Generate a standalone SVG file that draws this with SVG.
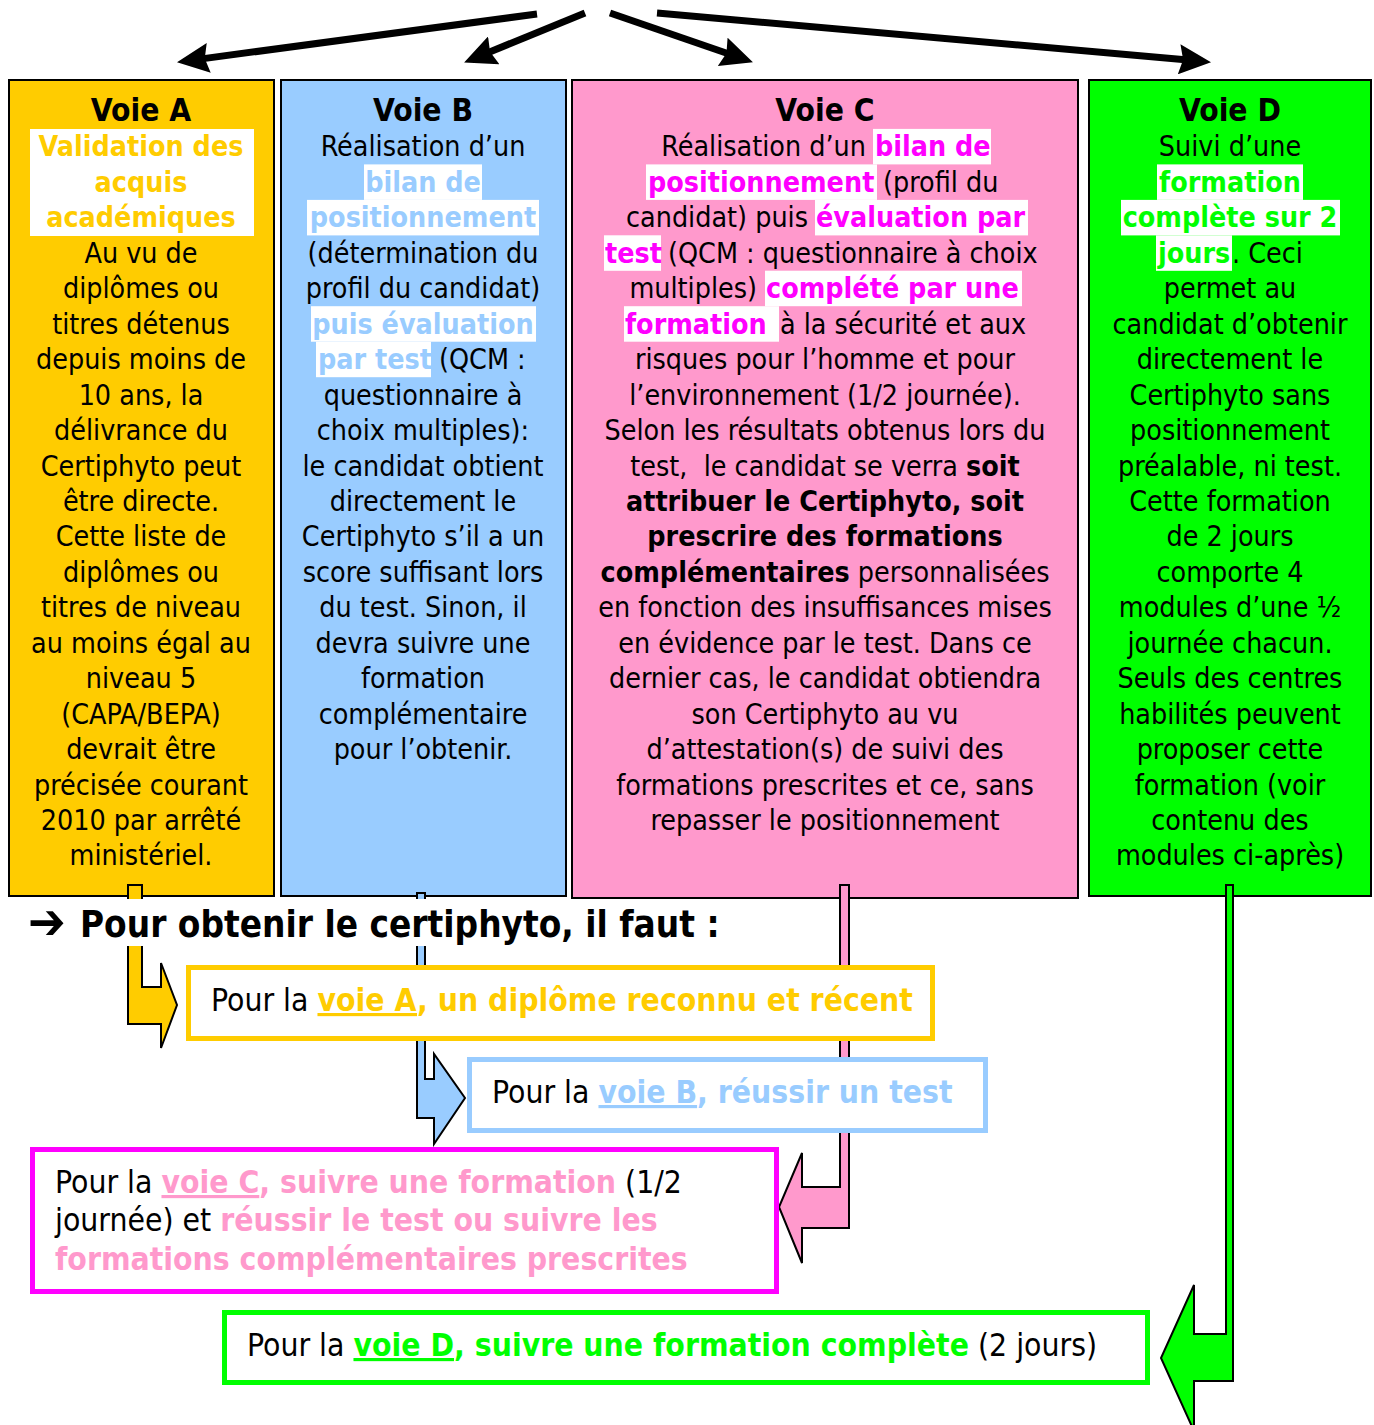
<svg xmlns="http://www.w3.org/2000/svg" width="1374" height="1425" viewBox="0 0 1374 1425">
<style>
text{font-family:'DejaVu Sans Condensed','DejaVu Sans',sans-serif;font-stretch:condensed;font-size:28.4px;fill:#000}
.c{text-anchor:middle}
.e{text-anchor:end}
.b{font-weight:bold}
.ti{font-weight:bold;font-size:31.5px;text-anchor:middle}
.hl{fill:#fff}
.yel{fill:#FFCC00}
.blu{fill:#99CCFF}
.mag{fill:#FF00FF}
.pnk{fill:#FF99CC}
.grn{fill:#00FF00}
.box{stroke:#000;stroke-width:2}
.ar{stroke:#000;stroke-width:7;fill:none;marker-end:url(#ah)}
.bent{stroke:#000;stroke-width:2;stroke-linejoin:miter}
.res{fill:#fff;stroke-width:5}
.rt{font-size:31.6px}
.u{text-decoration:underline}
</style>
<defs>
<marker id="ah" markerUnits="userSpaceOnUse" markerWidth="32" markerHeight="30" viewBox="0 0 32 30" refX="9" refY="15" orient="auto">
<path d="M0,0 L32,15 L0,30 L4,15 z" fill="#000"/>
</marker>
</defs>

<g id="top-arrows">
<line class="ar" x1="537" y1="14" x2="199.8" y2="59.1"/>
<line class="ar" x1="585" y1="13" x2="485.4" y2="53.7"/>
<line class="ar" x1="610" y1="13" x2="731.2" y2="54.8"/>
<line class="ar" x1="657" y1="13" x2="1188.1" y2="60.1"/>
</g>

<g id="voie-a">
<rect class="box yel" x="9" y="80" width="265" height="816"/>
<rect class="hl" x="30" y="129" width="224" height="107"/>
<text class="ti" x="141" y="121">Voie A</text>
<text class="c b yel" x="141" y="156.45">Validation des</text>
<text class="c b yel" x="141" y="191.9">acquis</text>
<text class="c b yel" x="141" y="227.35">académiques</text>
<text class="c" x="141" y="262.8">Au vu de</text>
<text class="c" x="141" y="298.25">diplômes ou</text>
<text class="c" x="141" y="333.7">titres détenus</text>
<text class="c" x="141" y="369.15">depuis moins de</text>
<text class="c" x="141" y="404.6">10 ans, la</text>
<text class="c" x="141" y="440.05">délivrance du</text>
<text class="c" x="141" y="475.5">Certiphyto peut</text>
<text class="c" x="141" y="510.95">être directe.</text>
<text class="c" x="141" y="546.4">Cette liste de</text>
<text class="c" x="141" y="581.85">diplômes ou</text>
<text class="c" x="141" y="617.3">titres de niveau</text>
<text class="c" x="141" y="652.75">au moins égal au</text>
<text class="c" x="141" y="688.2">niveau 5</text>
<text class="c" x="141" y="723.65">(CAPA/BEPA)</text>
<text class="c" x="141" y="759.1">devrait être</text>
<text class="c" x="141" y="794.55">précisée courant</text>
<text class="c" x="141" y="830">2010 par arrêté</text>
<text class="c" x="141" y="865.45">ministériel.</text>
</g>

<g id="voie-b">
<rect class="box blu" x="281" y="80" width="285" height="816"/>
<rect class="hl" x="364" y="164.4" width="118" height="35.5"/>
<rect class="hl" x="307" y="199.9" width="232" height="35.5"/>
<rect class="hl" x="311" y="306.2" width="225" height="35.5"/>
<rect class="hl" x="316" y="341.7" width="115" height="35.5"/>
<text class="ti" x="423" y="121">Voie B</text>
<text class="c" x="423" y="156.45">Réalisation d’un</text>
<text class="c b blu" x="423" y="191.9">bilan de</text>
<text class="c b blu" x="423" y="227.35">positionnement</text>
<text class="c" x="423" y="262.8">(détermination du</text>
<text class="c" x="423" y="298.25">profil du candidat)</text>
<text class="c b blu" x="423" y="333.7">puis évaluation</text>
<text class="b blu" x="318" y="369.15">par test</text>
<text x="439" y="369.15">(QCM :</text>
<text class="c" x="423" y="404.6">questionnaire à</text>
<text class="c" x="423" y="440.05">choix multiples):</text>
<text class="c" x="423" y="475.5">le candidat obtient</text>
<text class="c" x="423" y="510.95">directement le</text>
<text class="c" x="423" y="546.4">Certiphyto s’il a un</text>
<text class="c" x="423" y="581.85">score suffisant lors</text>
<text class="c" x="423" y="617.3">du test. Sinon, il</text>
<text class="c" x="423" y="652.75">devra suivre une</text>
<text class="c" x="423" y="688.2">formation</text>
<text class="c" x="423" y="723.65">complémentaire</text>
<text class="c" x="423" y="759.1">pour l’obtenir.</text>
</g>

<g id="voie-c">
<rect class="box pnk" x="572" y="80" width="506" height="818"/>
<rect class="hl" x="873" y="128.9" width="118" height="35.5"/>
<rect class="hl" x="646" y="164.4" width="231" height="35.5"/>
<rect class="hl" x="815" y="199.9" width="213" height="35.5"/>
<rect class="hl" x="604" y="235.3" width="57" height="35.5"/>
<rect class="hl" x="765" y="270.7" width="257" height="35.5"/>
<rect class="hl" x="624" y="306.2" width="155" height="35.5"/>
<text class="ti" x="825" y="121">Voie C</text>
<text class="e" x="866" y="156.45">Réalisation d’un</text>
<text class="b mag" x="875" y="156.45">bilan de</text>
<text class="b mag" x="648" y="191.9">positionnement</text>
<text x="883" y="191.9">(profil du</text>
<text class="e" x="808" y="227.35">candidat) puis</text>
<text class="b mag" x="816" y="227.35">évaluation par</text>
<text class="b mag" x="605" y="262.8">test</text>
<text x="668" y="262.8">(QCM : questionnaire à choix</text>
<text class="e" x="757" y="298.25">multiples)</text>
<text class="b mag" x="766" y="298.25">complété par une</text>
<text class="b mag" x="625" y="333.7">formation</text>
<text x="780" y="333.7">à la sécurité et aux</text>
<text class="c" x="825" y="369.15">risques pour l’homme et pour</text>
<text class="c" x="825" y="404.6">l’environnement (1/2 journée).</text>
<text class="c" x="825" y="440.05">Selon les résultats obtenus lors du</text>
<text class="c" x="825" y="475.5" xml:space="preserve">test,  le candidat se verra <tspan class="b">soit</tspan></text>
<text class="c b" x="825" y="510.95">attribuer le Certiphyto, soit</text>
<text class="c b" x="825" y="546.4">prescrire des formations</text>
<text class="c" x="825" y="581.85"><tspan class="b">complémentaires</tspan> personnalisées</text>
<text class="c" x="825" y="617.3">en fonction des insuffisances mises</text>
<text class="c" x="825" y="652.75">en évidence par le test. Dans ce</text>
<text class="c" x="825" y="688.2">dernier cas, le candidat obtiendra</text>
<text class="c" x="825" y="723.65">son Certiphyto au vu</text>
<text class="c" x="825" y="759.1">d’attestation(s) de suivi des</text>
<text class="c" x="825" y="794.55">formations prescrites et ce, sans</text>
<text class="c" x="825" y="830">repasser le positionnement</text>
</g>

<g id="voie-d">
<rect class="box grn" x="1089" y="80" width="282" height="816"/>
<rect class="hl" x="1157" y="164.4" width="146" height="35.5"/>
<rect class="hl" x="1121" y="199.9" width="219" height="35.5"/>
<rect class="hl" x="1156" y="235.3" width="76" height="35.5"/>
<text class="ti" x="1230" y="121">Voie D</text>
<text class="c" x="1230" y="156.45">Suivi d’une</text>
<text class="c b grn" x="1230" y="191.9">formation</text>
<text class="c b grn" x="1230" y="227.35">complète sur 2</text>
<text class="b grn" x="1158" y="262.8">jours</text>
<text x="1232" y="262.8">. Ceci</text>
<text class="c" x="1230" y="298.25">permet au</text>
<text class="c" x="1230" y="333.7">candidat d’obtenir</text>
<text class="c" x="1230" y="369.15">directement le</text>
<text class="c" x="1230" y="404.6">Certiphyto sans</text>
<text class="c" x="1230" y="440.05">positionnement</text>
<text class="c" x="1230" y="475.5">préalable, ni test.</text>
<text class="c" x="1230" y="510.95">Cette formation</text>
<text class="c" x="1230" y="546.4">de 2 jours</text>
<text class="c" x="1230" y="581.85">comporte 4</text>
<text class="c" x="1230" y="617.3">modules d’une ½</text>
<text class="c" x="1230" y="652.75">journée chacun.</text>
<text class="c" x="1230" y="688.2">Seuls des centres</text>
<text class="c" x="1230" y="723.65">habilités peuvent</text>
<text class="c" x="1230" y="759.1">proposer cette</text>
<text class="c" x="1230" y="794.55">formation (voir</text>
<text class="c" x="1230" y="830">contenu des</text>
<text class="c" x="1230" y="865.45">modules ci-après)</text>
</g>

<g id="connectors">
<polygon class="bent yel" points="128,885 142,885 142,987 161,987 161,963 177,1005 161,1048 161,1024 128,1024"/>
<polygon class="bent blu" points="417,893 425,893 425,1079 434,1079 434,1054 465,1098 434,1144 434,1118 417,1118"/>
<polygon class="bent pnk" points="840,885 849,885 849,1228 802,1228 802,1263 779,1207 802,1153 802,1187 840,1187"/>
<polygon class="bent grn" points="1226,885 1233,885 1233,1381 1194,1381 1194,1431 1161,1358 1194,1285 1194,1334 1226,1334"/>
</g>

<g id="heading">
<rect x="26" y="899" width="698" height="47" fill="#fff"/>
<text x="28" y="939" class="b" style="font-size:50px">➔</text>
<text x="80" y="937" class="b" style="font-size:36.6px">Pour obtenir le certiphyto, il faut :</text>
</g>

<g id="result-a">
<rect class="res" x="188.5" y="967.5" width="744" height="71" stroke="#FFCC00"/>
<text class="rt" x="211" y="1011">Pour la <tspan class="b yel u">voie A</tspan><tspan class="b yel">, un diplôme reconnu et récent</tspan></text>
</g>

<g id="result-b">
<rect class="res" x="469.5" y="1059.5" width="516" height="71" stroke="#99CCFF"/>
<text class="rt" x="492" y="1103">Pour la <tspan class="b blu u">voie B</tspan><tspan class="b blu">, réussir un test</tspan></text>
</g>

<g id="result-c">
<rect class="res" x="32.5" y="1149.5" width="744" height="142" stroke="#FF00FF"/>
<text class="rt" x="55" y="1193">Pour la <tspan class="b pnk u">voie C</tspan><tspan class="b pnk">, suivre une formation</tspan> (1/2</text>
<text class="rt" x="55" y="1231">journée) et <tspan class="b pnk">réussir le test ou suivre les</tspan></text>
<text class="rt b pnk" x="55" y="1270">formations complémentaires prescrites</text>
</g>

<g id="result-d">
<rect class="res" x="224.5" y="1312.5" width="923" height="70" stroke="#00FF00"/>
<text class="rt" x="247" y="1356">Pour la <tspan class="b grn u">voie D</tspan><tspan class="b grn">, suivre une formation complète</tspan> (2 jours)</text>
</g>
</svg>
